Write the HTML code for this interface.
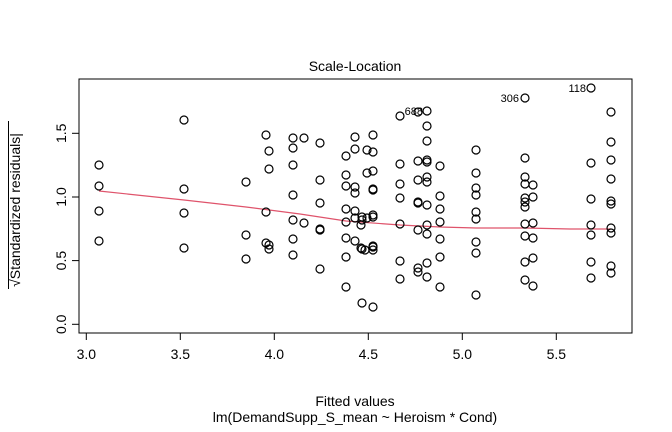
<!DOCTYPE html>
<html><head><meta charset="utf-8"><style>body{margin:0;background:#fff}svg{display:block}text{font-family:"Liberation Sans",sans-serif;fill:#000}</style></head><body>
<svg width="672" height="432" viewBox="0 0 672 432" xmlns="http://www.w3.org/2000/svg">
<rect x="79" y="79" width="553" height="254" fill="none" stroke="#000" stroke-width="1"/>
<text x="355" y="71" font-size="14" text-anchor="middle">Scale-Location</text>
<g stroke="#000" stroke-width="1">
<line x1="86" y1="333" x2="556.5" y2="333"/>
<line x1="86.3" y1="333" x2="86.3" y2="340"/><line x1="180.3" y1="333" x2="180.3" y2="340"/><line x1="274.3" y1="333" x2="274.3" y2="340"/><line x1="368.3" y1="333" x2="368.3" y2="340"/><line x1="462.3" y1="333" x2="462.3" y2="340"/><line x1="556.3" y1="333" x2="556.3" y2="340"/>
<line x1="79" y1="133.3" x2="79" y2="324.3"/>
<line x1="72" y1="324.3" x2="79" y2="324.3"/><line x1="72" y1="260.6" x2="79" y2="260.6"/><line x1="72" y1="197" x2="79" y2="197"/><line x1="72" y1="133.3" x2="79" y2="133.3"/>
</g>
<g font-size="14" text-anchor="middle">
<text x="86.3" y="359">3.0</text><text x="180.3" y="359">3.5</text><text x="274.3" y="359">4.0</text><text x="368.3" y="359">4.5</text><text x="462.3" y="359">5.0</text><text x="556.3" y="359">5.5</text>
<text x="355" y="406">Fitted values</text>
<text x="355" y="422">lm(DemandSupp_S_mean ~ Heroism * Cond)</text>
</g>
<g font-size="14" text-anchor="middle">
<text transform="translate(66,324.3) rotate(-90)">0.0</text>
<text transform="translate(66,260.6) rotate(-90)">0.5</text>
<text transform="translate(66,197) rotate(-90)">1.0</text>
<text transform="translate(66,133.3) rotate(-90)">1.5</text>
<text transform="translate(20,210) rotate(-90)">√Standardized residuals|</text>
</g>
<line x1="8.5" y1="121" x2="8.5" y2="289" stroke="#000" stroke-width="1"/>
<polyline points="99,191 184,200 246,207 300,214 346,221 400,225 440,227 476,228 525,228 570,229 611,229" fill="none" stroke="#DF536B" stroke-width="1.2"/>
<g fill="none" stroke="#000" stroke-width="1.2">
<circle cx="99" cy="165" r="4"/><circle cx="99" cy="186" r="4"/><circle cx="99" cy="211" r="4"/><circle cx="99" cy="241" r="4"/>
<circle cx="184" cy="120" r="4"/><circle cx="184" cy="189" r="4"/><circle cx="184" cy="213" r="4"/><circle cx="184" cy="248" r="4"/>
<circle cx="246" cy="182" r="4"/><circle cx="246" cy="235" r="4"/><circle cx="246" cy="259" r="4"/>
<circle cx="266" cy="135" r="4"/><circle cx="269" cy="151" r="4"/><circle cx="269" cy="169" r="4"/><circle cx="266" cy="212" r="4"/><circle cx="266" cy="243" r="4"/><circle cx="269" cy="245" r="4"/><circle cx="269" cy="249" r="4"/>
<circle cx="293" cy="138" r="4"/><circle cx="293" cy="148" r="4"/><circle cx="293" cy="165" r="4"/><circle cx="293" cy="195" r="4"/><circle cx="293" cy="220" r="4"/><circle cx="293" cy="239" r="4"/><circle cx="293" cy="255" r="4"/>
<circle cx="304" cy="138" r="4"/><circle cx="304" cy="223" r="4"/>
<circle cx="320" cy="143" r="4"/><circle cx="320" cy="180" r="4"/><circle cx="320" cy="203" r="4"/><circle cx="320" cy="229" r="4"/><circle cx="320" cy="230" r="4"/><circle cx="320" cy="269" r="4"/>
<circle cx="346" cy="156" r="4"/><circle cx="346" cy="175" r="4"/><circle cx="346" cy="186" r="4"/><circle cx="346" cy="209" r="4"/><circle cx="346" cy="222" r="4"/><circle cx="346" cy="238" r="4"/><circle cx="346" cy="257" r="4"/><circle cx="346" cy="287" r="4"/>
<circle cx="355" cy="137" r="4"/><circle cx="355" cy="149" r="4"/><circle cx="355" cy="187" r="4"/><circle cx="355" cy="193" r="4"/><circle cx="355" cy="211" r="4"/><circle cx="355" cy="218" r="4"/><circle cx="355" cy="241" r="4"/><circle cx="362" cy="249" r="4"/><circle cx="362" cy="303" r="4"/>
<circle cx="367" cy="150" r="4"/><circle cx="367" cy="173" r="4"/><circle cx="362" cy="217" r="4"/><circle cx="367" cy="218" r="4"/><circle cx="361" cy="248" r="4"/><circle cx="365" cy="250" r="4"/><circle cx="361" cy="225" r="4"/><circle cx="362" cy="220" r="4"/>
<circle cx="373" cy="135" r="4"/><circle cx="373" cy="152" r="4"/><circle cx="373" cy="171" r="4"/><circle cx="373" cy="189" r="4"/><circle cx="373" cy="190" r="4"/><circle cx="373" cy="215" r="4"/><circle cx="373" cy="217" r="4"/><circle cx="373" cy="246" r="4"/><circle cx="373" cy="247" r="4"/><circle cx="373" cy="250" r="4"/><circle cx="373" cy="307" r="4"/>
<circle cx="400" cy="116" r="4"/><circle cx="400" cy="164" r="4"/><circle cx="400" cy="184" r="4"/><circle cx="400" cy="198" r="4"/><circle cx="400" cy="224" r="4"/><circle cx="400" cy="261" r="4"/><circle cx="400" cy="279" r="4"/>
<circle cx="418" cy="112" r="4"/><circle cx="418" cy="161" r="4"/><circle cx="418" cy="180" r="4"/><circle cx="418" cy="202" r="4"/><circle cx="418" cy="203" r="4"/><circle cx="418" cy="230" r="4"/><circle cx="418" cy="268" r="4"/><circle cx="418" cy="272" r="4"/>
<circle cx="427" cy="111" r="4"/><circle cx="427" cy="126" r="4"/><circle cx="427" cy="141" r="4"/><circle cx="427" cy="160" r="4"/><circle cx="427" cy="162" r="4"/><circle cx="427" cy="177" r="4"/><circle cx="427" cy="182" r="4"/><circle cx="427" cy="205" r="4"/><circle cx="427" cy="225" r="4"/><circle cx="427" cy="234" r="4"/><circle cx="427" cy="263" r="4"/><circle cx="427" cy="277" r="4"/>
<circle cx="440" cy="166" r="4"/><circle cx="440" cy="196" r="4"/><circle cx="440" cy="209" r="4"/><circle cx="440" cy="222" r="4"/><circle cx="440" cy="239" r="4"/><circle cx="440" cy="257" r="4"/><circle cx="440" cy="287" r="4"/>
<circle cx="476" cy="150" r="4"/><circle cx="476" cy="173" r="4"/><circle cx="476" cy="188" r="4"/><circle cx="476" cy="195" r="4"/><circle cx="476" cy="212" r="4"/><circle cx="476" cy="219" r="4"/><circle cx="476" cy="242" r="4"/><circle cx="476" cy="253" r="4"/><circle cx="476" cy="295" r="4"/>
<circle cx="525" cy="98" r="4"/><circle cx="525" cy="158" r="4"/><circle cx="525" cy="177" r="4"/><circle cx="525" cy="184" r="4"/><circle cx="525" cy="198" r="4"/><circle cx="525" cy="202" r="4"/><circle cx="525" cy="207" r="4"/><circle cx="525" cy="224" r="4"/><circle cx="525" cy="236" r="4"/><circle cx="525" cy="262" r="4"/><circle cx="525" cy="280" r="4"/>
<circle cx="533" cy="185" r="4"/><circle cx="533" cy="197" r="4"/><circle cx="533" cy="223" r="4"/><circle cx="533" cy="238" r="4"/><circle cx="533" cy="258" r="4"/><circle cx="533" cy="286" r="4"/>
<circle cx="591" cy="88" r="4"/><circle cx="591" cy="163" r="4"/><circle cx="591" cy="199" r="4"/><circle cx="591" cy="225" r="4"/><circle cx="591" cy="235" r="4"/><circle cx="591" cy="262" r="4"/><circle cx="591" cy="278" r="4"/>
<circle cx="611" cy="112" r="4"/><circle cx="611" cy="142" r="4"/><circle cx="611" cy="160" r="4"/><circle cx="611" cy="179" r="4"/><circle cx="611" cy="201" r="4"/><circle cx="611" cy="204" r="4"/><circle cx="611" cy="228" r="4"/><circle cx="611" cy="233" r="4"/><circle cx="611" cy="266" r="4"/><circle cx="611" cy="273" r="4"/>
</g>
<g font-size="11" text-anchor="end">
<text x="423" y="115">688</text><text x="519" y="102">306</text><text x="586" y="92">118</text>
</g>
</svg>
</body></html>
